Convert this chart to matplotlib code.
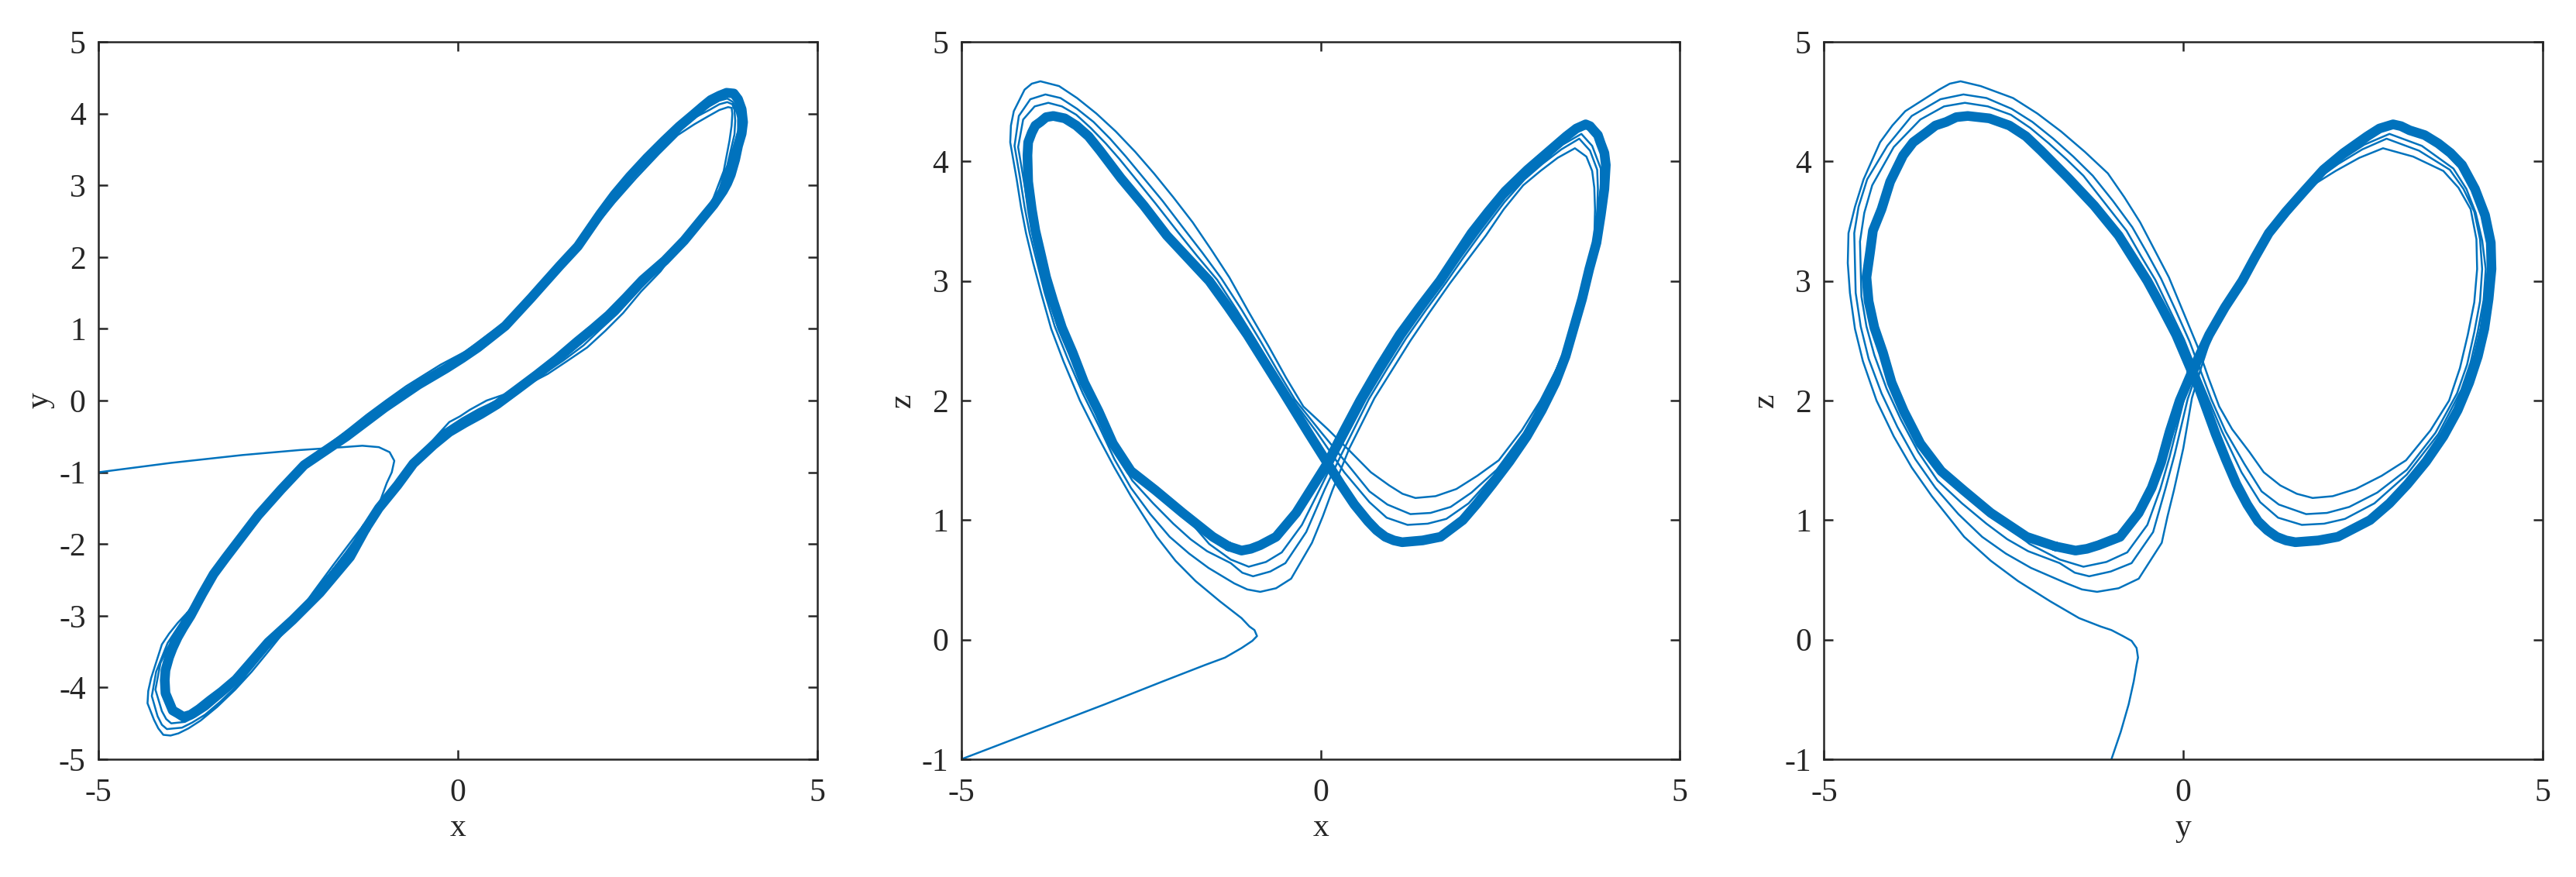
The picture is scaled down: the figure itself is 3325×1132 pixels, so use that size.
import numpy as np
import matplotlib
matplotlib.use("Agg")
import matplotlib.pyplot as plt

transient = [
    (-5.00, -1.00, -1.00), (-4.00, -0.87, -0.77), (-3.00, -0.76, -0.54),
    (-2.20, -0.69, -0.35), (-1.60, -0.65, -0.21), (-1.33, -0.63, -0.15),
    (-1.10, -0.65, -0.07), (-0.95, -0.72, -0.01), (-0.885, -0.84, 0.03),
    (-0.92, -1.00, 0.08), (-0.99, -1.15, 0.11), (-1.10, -1.45, 0.18),
    (-1.40, -1.85, 0.32), (-1.74, -2.30, 0.49), (-2.02, -2.68, 0.66),
    (-2.28, -3.05, 0.86), (-2.64, -3.50, 1.20), (-2.87, -3.78, 1.44),
    (-3.10, -4.03, 1.70), (-3.35, -4.27, 2.00), (-3.58, -4.46, 2.33),
    (-3.75, -4.57, 2.60), (-3.89, -4.64, 2.90), (-4.00, -4.67, 3.15),
    (-4.10, -4.66, 3.40), (-4.17, -4.57, 3.62), (-4.23, -4.45, 3.85),
    (-4.32, -4.22, 4.16), (-4.31, -4.05, 4.30), (-4.27, -3.87, 4.42),
    (-4.12, -3.40, 4.60), (-4.02, -3.25, 4.65),
]

a_diag_lr = [
    (-3.90, -3.10, 4.67), (-3.64, -2.82, 4.63), (-3.39, -2.37, 4.53),
    (-3.12, -2.03, 4.40), (-2.85, -1.70, 4.25), (-2.58, -1.37, 4.08),
    (-2.32, -1.05, 3.90), (-2.05, -0.82, 3.70), (-1.78, -0.60, 3.49),
    (-1.52, -0.40, 3.26), (-1.27, -0.20, 3.03), (-1.00, 0.00, 2.74),
    (-0.72, 0.20, 2.45), (-0.48, 0.35, 2.19), (-0.24, 0.50, 1.95),
    (0.10, 0.68, 1.76), (0.42, 0.92, 1.57), (0.70, 1.12, 1.40),
    (0.955, 1.35, 1.29), (1.14, 1.58, 1.22), (1.32, 1.80, 1.185),
]
a_rise_r = [
    (1.60, 2.08, 1.20), (1.89, 2.40, 1.26), (2.18, 2.76, 1.37),
    (2.48, 3.10, 1.50), (2.80, 3.44, 1.75), (3.06, 3.70, 2.00),
    (3.29, 3.85, 2.27), (3.48, 3.96, 2.55), (3.64, 4.05, 2.82),
    (3.76, 4.09, 3.10), (3.81, 4.08, 3.35), (3.82, 4.00, 3.60),
    (3.81, 3.83, 3.78), (3.78, 3.62, 3.92), (3.70, 3.20, 4.04),
    (3.54, 2.78, 4.11),
]
a_diag_rl = [
    (3.30, 2.45, 4.03), (3.06, 2.12, 3.92), (2.82, 1.80, 3.80),
    (2.55, 1.52, 3.60), (2.30, 1.22, 3.38), (2.05, 0.97, 3.18),
    (1.80, 0.74, 2.98), (1.52, 0.55, 2.74), (1.25, 0.37, 2.50),
    (1.00, 0.24, 2.26), (0.75, 0.12, 2.02), (0.40, 0.00, 1.60),
    (0.165, -0.13, 1.25), (0.03, -0.22, 1.03), (-0.12, -0.30, 0.81),
    (-0.41, -0.62, 0.51), (-0.62, -0.90, 0.43), (-0.84, -1.20, 0.40),
]

b_rise_l = [
    (-1.02, -1.41, 0.42), (-1.20, -1.62, 0.47), (-1.56, -2.12, 0.60),
    (-1.83, -2.47, 0.72), (-2.10, -2.80, 0.86), (-2.37, -3.13, 1.05),
    (-2.64, -3.45, 1.27), (-2.87, -3.73, 1.51), (-3.08, -3.98, 1.78),
    (-3.31, -4.20, 2.06), (-3.52, -4.38, 2.35), (-3.70, -4.49, 2.62),
    (-3.84, -4.56, 2.90), (-4.05, -4.58, 3.40), (-4.12, -4.52, 3.62),
    (-4.18, -4.40, 3.85), (-4.26, -4.12, 4.13), (-4.20, -3.78, 4.38),
    (-4.04, -3.38, 4.52),
]
b_diag_lr = [
    (-3.83, -3.06, 4.56), (-3.62, -2.74, 4.53), (-3.39, -2.39, 4.44),
    (-3.16, -2.10, 4.33), (-2.93, -1.81, 4.19), (-2.71, -1.53, 4.04),
    (-2.49, -1.26, 3.88), (-2.20, -0.98, 3.67), (-1.92, -0.71, 3.45),
    (-1.65, -0.51, 3.24), (-1.38, -0.31, 3.02), (-1.10, -0.11, 2.76),
    (-0.83, 0.09, 2.49), (-0.60, 0.24, 2.25), (-0.36, 0.39, 2.01),
    (0.00, 0.59, 1.74), (0.37, 0.85, 1.47), (0.68, 1.09, 1.24),
    (0.93, 1.33, 1.13), (1.25, 1.71, 1.05),
]
b_rise_r = [
    (1.53, 2.00, 1.06), (1.81, 2.31, 1.11), (2.10, 2.70, 1.23),
    (2.45, 3.11, 1.42), (2.83, 3.51, 1.73), (3.14, 3.81, 2.06),
    (3.31, 3.95, 2.30), (3.50, 4.05, 2.57), (3.64, 4.13, 2.83),
    (3.75, 4.16, 3.10), (3.82, 4.13, 3.35), (3.85, 4.05, 3.58),
    (3.86, 3.90, 3.77), (3.85, 3.71, 3.93), (3.75, 3.28, 4.09),
    (3.60, 2.83, 4.19),
]
b_diag_rl = [
    (3.35, 2.49, 4.10), (3.09, 2.16, 3.98), (2.84, 1.86, 3.85),
    (2.56, 1.58, 3.66), (2.22, 1.21, 3.39), (1.98, 0.99, 3.19),
    (1.75, 0.77, 2.99), (1.47, 0.56, 2.76), (1.19, 0.37, 2.52),
    (0.93, 0.21, 2.27), (0.67, 0.06, 2.01), (0.29, -0.12, 1.55),
    (0.06, -0.25, 1.26), (-0.20, -0.42, 0.90), (-0.49, -0.72, 0.64),
    (-0.70, -1.01, 0.57), (-0.94, -1.31, 0.53),
]

c_rise_l = [
    (-1.09, -1.51, 0.56), (-1.25, -1.72, 0.64), (-1.58, -2.16, 0.74),
    (-1.81, -2.45, 0.84), (-2.05, -2.74, 0.97), (-2.33, -3.08, 1.14),
    (-2.62, -3.42, 1.33), (-2.86, -3.69, 1.57), (-3.08, -3.93, 1.84),
    (-3.29, -4.13, 2.10), (-3.49, -4.30, 2.38), (-3.66, -4.41, 2.62),
    (-3.80, -4.48, 2.87), (-3.99, -4.50, 3.33), (-4.06, -4.44, 3.57),
    (-4.12, -4.33, 3.80), (-4.21, -4.03, 4.12), (-4.14, -3.66, 4.35),
    (-3.98, -3.33, 4.46),
]
c_diag_lr = [
    (-3.79, -3.04, 4.49), (-3.60, -2.72, 4.46), (-3.40, -2.40, 4.39),
    (-3.20, -2.13, 4.28), (-2.99, -1.87, 4.15), (-2.80, -1.63, 4.02),
    (-2.61, -1.39, 3.88), (-2.30, -1.09, 3.65), (-2.00, -0.79, 3.42),
    (-1.72, -0.59, 3.21), (-1.44, -0.39, 3.01), (-1.17, -0.19, 2.76),
    (-0.91, 0.01, 2.51), (-0.67, 0.17, 2.27), (-0.43, 0.33, 2.04),
    (-0.06, 0.54, 1.74), (0.33, 0.81, 1.40), (0.68, 1.07, 1.15),
    (0.92, 1.32, 1.02), (1.21, 1.65, 0.96),
]
c_rise_r = [
    (1.49, 1.96, 0.97), (1.75, 2.25, 1.01), (2.06, 2.66, 1.14),
    (2.42, 3.11, 1.38), (2.84, 3.55, 1.72), (3.19, 3.87, 2.09),
    (3.36, 4.00, 2.32), (3.50, 4.10, 2.58), (3.64, 4.18, 2.84),
    (3.75, 4.21, 3.10), (3.83, 4.16, 3.34), (3.87, 4.07, 3.57),
    (3.90, 3.94, 3.77), (3.90, 3.76, 3.94), (3.78, 3.32, 4.13),
    (3.63, 2.87, 4.23),
]
c_diag_rl = [
    (3.37, 2.52, 4.14), (3.12, 2.19, 4.01), (2.86, 1.89, 3.88),
    (2.56, 1.62, 3.69), (2.18, 1.20, 3.39), (1.94, 0.99, 3.19),
    (1.71, 0.79, 2.99), (1.43, 0.57, 2.76), (1.16, 0.36, 2.53),
    (0.89, 0.18, 2.27), (0.63, 0.01, 2.01), (0.21, -0.19, 1.53),
    (-0.01, -0.32, 1.26), (-0.26, -0.50, 0.96), (-0.54, -0.78, 0.73),
    (-0.76, -1.07, 0.65), (-1.00, -1.39, 0.61),
]
c_to_band = [(-1.25, -1.72, 0.67), (-1.55, -2.14, 0.80)]

# the settled cycle (thick bundle)
band_rise_l = [
    (-1.28, -1.78, 0.78), (-1.50, -2.18, 0.86), (-1.92, -2.68, 1.06),
    (-2.11, -2.87, 1.155), (-2.30, -3.06, 1.25), (-2.64, -3.37, 1.41),
    (-2.89, -3.66, 1.64), (-3.09, -3.89, 1.91), (-3.29, -4.06, 2.15),
    (-3.45, -4.18, 2.40), (-3.60, -4.30, 2.61), (-3.72, -4.38, 2.83),
    (-3.82, -4.41, 3.03), (-3.90, -4.36, 3.24), (-3.97, -4.32, 3.42),
    (-4.02, -4.20, 3.60), (-4.07, -4.08, 3.83), (-4.08, -3.90, 4.05),
    (-4.07, -3.76, 4.16), (-4.02, -3.58, 4.24), (-3.97, -3.45, 4.30),
    (-3.90, -3.30, 4.33), (-3.82, -3.16, 4.37),
]
band_diag_lr = [
    (-3.72, -3.00, 4.38), (-3.56, -2.70, 4.36), (-3.40, -2.42, 4.30),
    (-3.23, -2.19, 4.21), (-3.07, -1.98, 4.09), (-2.78, -1.60, 3.86),
    (-2.46, -1.24, 3.63), (-2.14, -0.90, 3.38), (-1.845, -0.70, 3.19),
    (-1.55, -0.50, 3.00), (-1.285, -0.30, 2.78), (-1.02, -0.10, 2.55),
    (-0.785, 0.06, 2.325), (-0.55, 0.22, 2.10), (-0.16, 0.45, 1.72),
    (0.06, 0.59, 1.51), (0.28, 0.74, 1.30), (0.47, 0.89, 1.13),
    (0.66, 1.04, 0.99), (0.78, 1.17, 0.915), (0.90, 1.30, 0.86),
    (1.02, 1.43, 0.83), (1.135, 1.56, 0.815),
]
band_rise_r = [
    (1.42, 1.88, 0.83), (1.67, 2.15, 0.86), (1.98, 2.60, 1.00),
    (2.18, 2.87, 1.14), (2.39, 3.12, 1.30), (2.63, 3.38, 1.49),
    (2.87, 3.62, 1.70), (3.08, 3.82, 1.92), (3.27, 3.98, 2.15),
    (3.41, 4.10, 2.37), (3.52, 4.19, 2.60), (3.64, 4.25, 2.85),
    (3.74, 4.29, 3.10), (3.84, 4.28, 3.32), (3.90, 4.20, 3.55),
    (3.95, 4.06, 3.77), (3.97, 3.88, 3.97), (3.95, 3.72, 4.07),
    (3.90, 3.55, 4.15), (3.86, 3.36, 4.22), (3.80, 3.15, 4.26),
    (3.75, 3.03, 4.295), (3.69, 2.92, 4.31),
]
band_diag_rl = [
    (3.56, 2.73, 4.275), (3.42, 2.56, 4.21), (3.15, 2.23, 4.07),
    (2.88, 1.95, 3.93), (2.57, 1.68, 3.75), (2.335, 1.43, 3.58),
    (2.10, 1.19, 3.40), (1.88, 1.00, 3.20), (1.66, 0.82, 3.00),
    (1.38, 0.58, 2.78), (1.10, 0.36, 2.55), (0.82, 0.15, 2.28),
    (0.55, -0.05, 2.00), (0.32, -0.19, 1.74), (0.10, -0.31, 1.48),
    (-0.12, -0.44, 1.27), (-0.34, -0.62, 1.06), (-0.62, -0.88, 0.86),
    (-0.84, -1.18, 0.79), (-0.97, -1.34, 0.76), (-1.10, -1.50, 0.745),
]

axis_names = ["x", "y", "z"]
line_color = "#0072BD"
ink = "#262626"


def stack(*segments):
    return np.array([p for seg in segments for p in seg])


traj = stack(transient, a_diag_lr, a_rise_r, a_diag_rl,
             b_rise_l, b_diag_lr, b_rise_r, b_diag_rl,
             c_rise_l, c_diag_lr, c_rise_r, c_diag_rl, c_to_band,
             band_rise_l[2:], band_diag_lr, band_rise_r, band_diag_rl)
band = stack(band_rise_l, band_diag_lr, band_rise_r, band_diag_rl, band_rise_l[:1])

plt.rcParams["font.family"] = ["Liberation Serif", "DejaVu Serif"]
plt.rcParams["font.size"] = 10
plt.rcParams["axes.unicode_minus"] = False

fig = plt.figure(figsize=(3325 / 300, 1132 / 300), dpi=300)

panels = [(0, 1, (-5, 5)), (0, 2, (-1, 5)), (1, 2, (-1, 5))]
lefts = [0.0383, 0.3732, 0.7081]

for left, (i, j, ylim) in zip(lefts, panels):
    ax = fig.add_axes([left, 0.1343, 0.2789, 0.8180])
    ax.plot(traj[:, i], traj[:, j], color=line_color, lw=0.6)
    ax.plot(band[:, i], band[:, j], color=line_color, lw=3.0,
            solid_joinstyle="round", solid_capstyle="round")
    ax.set_xlim(-5, 5)
    ax.set_ylim(*ylim)
    ax.set_xticks([-5, 0, 5])
    ax.set_yticks(range(ylim[0], ylim[1] + 1))
    ax.tick_params(direction="in", top=True, right=True, length=2.8,
                   width=0.6, color=ink, labelcolor=ink)
    ax.tick_params(axis="x", pad=6)
    ax.tick_params(axis="y", pad=4)
    for s in ax.spines.values():
        s.set_linewidth(0.6)
        s.set_color(ink)
    ax.set_xlabel(axis_names[i], color=ink, va="center")
    ax.set_ylabel(axis_names[j], color=ink, va="center")
    ax.xaxis.set_label_coords(0.5, -0.096)
    ax.yaxis.set_label_coords(-0.082, 0.5)

fig.savefig("out.png", dpi=300)
